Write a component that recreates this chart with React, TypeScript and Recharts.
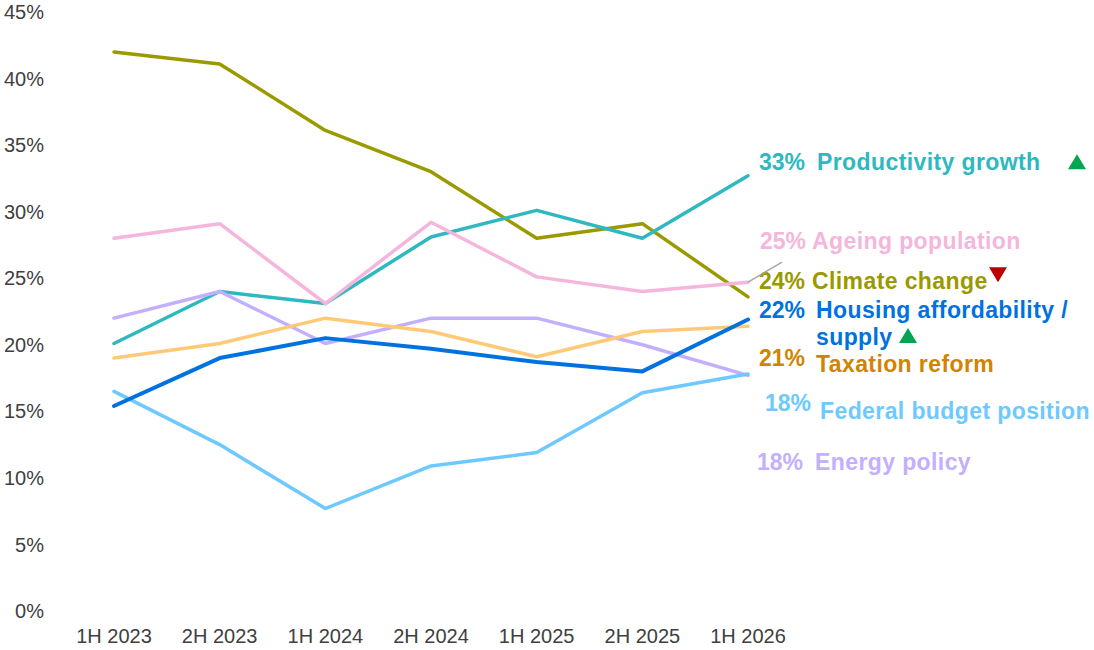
import { LabelList, Line, LineChart, XAxis, YAxis } from "recharts";

const periods = ["1H 2023", "2H 2023", "1H 2024", "2H 2024", "1H 2025", "2H 2025", "1H 2026"];
const climateChange = [42.0, 41.1, 36.1, 33.0, 28.0, 29.1, 23.6];
const productivityGrowth = [20.1, 24.0, 23.1, 28.1, 30.1, 28.0, 32.7];
const ageingPopulation = [28.0, 29.1, 23.1, 29.2, 25.1, 24.0, 24.7];
const energyPolicy = [22.0, 24.0, 20.1, 22.0, 22.0, 20.0, 17.7];
const taxationReform = [19.0, 20.1, 22.0, 21.0, 19.1, 21.0, 21.4];
const federalBudget = [16.5, 12.5, 7.7, 10.9, 11.9, 16.4, 17.8];
const housingAffordability = [15.4, 19.0, 20.5, 19.7, 18.7, 18.0, 21.9];
const yTicks = [0, 5, 10, 15, 20, 25, 30, 35, 40, 45];

const FONT = "'Liberation Sans', Arial, sans-serif";

type Trend = "up" | "down" | undefined;

interface SeriesDef {
  key: string;
  name: string[];
  values: number[];
  stroke: string;
  text: string;
  width: number;
  // label layout, relative to the last point
  pctDx: number;
  pctDy: number;
  nameDx: number;
  nameDy: number;
  trend?: Trend;
  trendDx?: number;
  trendDy?: number;
  leader?: boolean;
}

const series: SeriesDef[] = [
  { key: "climate", name: ["Climate change"], values: climateChange, stroke: "#9A9A00", text: "#999900", width: 3.5,
    pctDx: 11, pctDy: -16, nameDx: 64, nameDy: -16, trend: "down", trendDx: 250, trendDy: -22 },
  { key: "productivity", name: ["Productivity growth"], values: productivityGrowth, stroke: "#2EB8BF", text: "#2EB8BF", width: 3.5,
    pctDx: 11, pctDy: -14, nameDx: 69, nameDy: -14, trend: "up", trendDx: 329, trendDy: -14 },
  { key: "ageing", name: ["Ageing population"], values: ageingPopulation, stroke: "#F5B6DD", text: "#F5B6DD", width: 3.5,
    pctDx: 12, pctDy: -41, nameDx: 64, nameDy: -41, leader: true },
  { key: "energy", name: ["Energy policy"], values: energyPolicy, stroke: "#C3AFFF", text: "#C3AFFF", width: 3.5,
    pctDx: 9, pctDy: 87, nameDx: 67, nameDy: 87 },
  { key: "tax", name: ["Taxation reform"], values: taxationReform, stroke: "#FFCA78", text: "#D08400", width: 3.5,
    pctDx: 11, pctDy: 32, nameDx: 68, nameDy: 38 },
  { key: "federal", name: ["Federal budget position"], values: federalBudget, stroke: "#6DC9FF", text: "#6DC9FF", width: 3.5,
    pctDx: 17, pctDy: 29, nameDx: 72, nameDy: 37 },
  { key: "housing", name: ["Housing affordability /", "supply"], values: housingAffordability, stroke: "#0072E0", text: "#0072E0", width: 4,
    pctDx: 11, pctDy: -9, nameDx: 68, nameDy: -9, trend: "up", trendDx: 160, trendDy: 16 },
];

const chartData = periods.map((period, i) => {
  const row: Record<string, string | number> = { period };
  series.forEach((s) => {
    row[s.key] = s.values[i];
  });
  return row;
});

const Triangle = ({ cx, cy, dir }: { cx: number; cy: number; dir: Trend }) => {
  const w = 9;
  const h = 15;
  const pts =
    dir === "up"
      ? `${cx - w},${cy + h / 2} ${cx + w},${cy + h / 2} ${cx},${cy - h / 2}`
      : `${cx - w},${cy - h / 2} ${cx + w},${cy - h / 2} ${cx},${cy + h / 2}`;
  return <polygon points={pts} fill={dir === "up" ? "#00A651" : "#C00000"} />;
};

const makeLabel = (s: SeriesDef) => (props: any) => {
  const { x, y, index, value } = props;
  if (index !== periods.length - 1) return null;
  const lineGap = 27;
  return (
    <g style={{ fontFamily: FONT, fontWeight: 700, fontSize: 23 }}>
      {s.leader && <line x1={x} y1={y} x2={x + 34} y2={y - 20} stroke="#A6A6A6" strokeWidth={1.5} />}
      <text x={x + s.pctDx} y={y + s.pctDy} fill={s.text} dominantBaseline="central">
        {`${Math.round(Number(value))}%`}
      </text>
      {s.name.map((n, i) => (
        <text
          key={n}
          x={x + s.nameDx}
          y={y + s.nameDy + i * lineGap}
          fill={s.text}
          letterSpacing={0.4}
          dominantBaseline="central"
        >
          {n}
        </text>
      ))}
      {s.trend && <Triangle cx={x + (s.trendDx ?? 0)} cy={y + (s.trendDy ?? 0)} dir={s.trend} />}
    </g>
  );
};

export default function App() {
  return (
    <div style={{ position: "absolute", left: 0, top: 0, background: "#fff" }}>
      <LineChart
        width={1094}
        height={650}
        data={chartData}
        margin={{ top: 12, right: 294, bottom: 0, left: 0 }}
      >
        <XAxis
          dataKey="period"
          axisLine={false}
          tickLine={false}
          tickSize={0}
          tickMargin={18}
          height={39}
          interval={0}
          padding={{ left: 64, right: 52 }}
          tick={{ fill: "#404040", fontSize: 20, fontFamily: FONT }}
        />
        <YAxis
          domain={[0, 45]}
          ticks={yTicks}
          axisLine={false}
          tickLine={false}
          tickSize={0}
          tickMargin={6}
          width={50}
          tickFormatter={(v: number) => `${v}%`}
          tick={{ fill: "#404040", fontSize: 20, fontFamily: FONT }}
        />
        {series.map((s) => (
          <Line
            key={s.key}
            type="linear"
            dataKey={s.key}
            stroke={s.stroke}
            strokeWidth={s.width}
            strokeLinecap="round"
            strokeLinejoin="round"
            dot={false}
            activeDot={false}
            isAnimationActive={false}
          >
            <LabelList dataKey={s.key} content={makeLabel(s)} />
          </Line>
        ))}
      </LineChart>
    </div>
  );
}
